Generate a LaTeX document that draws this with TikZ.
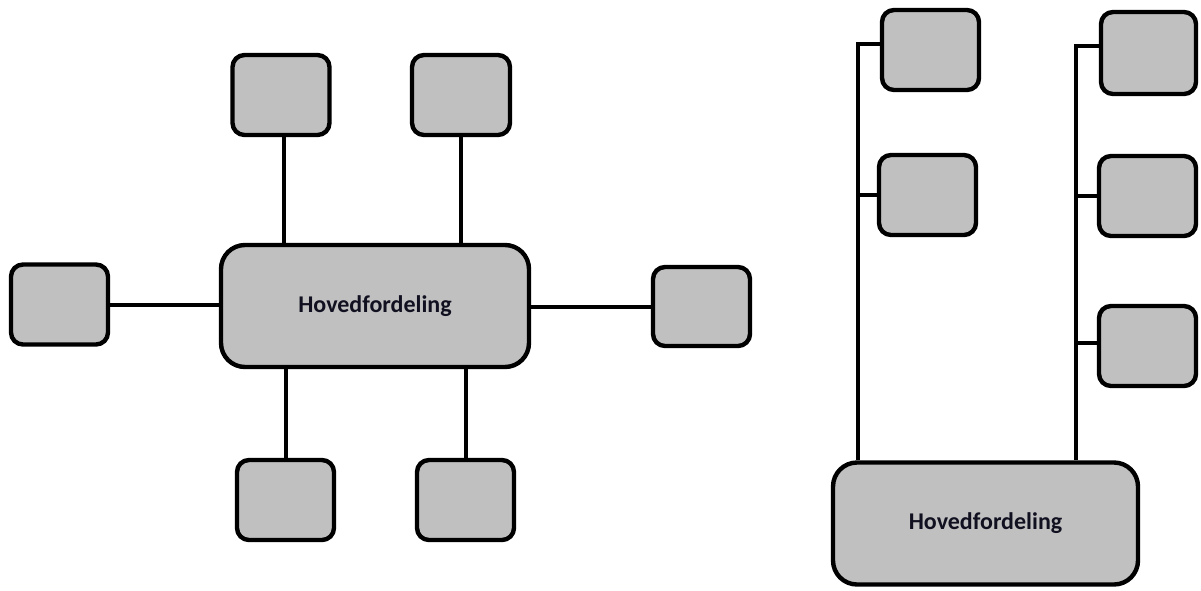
\documentclass[tikz,border=0pt]{standalone}
\usepackage{fontspec}
\setmainfont{Carlito}
\begin{document}
\begin{tikzpicture}[x=1pt,y=-1pt,
  box/.style={draw=black,line width=4.4pt,fill=boxgray,rounded corners=12pt,inner sep=0pt,
    minimum width=97pt,minimum height=80pt},
  hub/.style={draw=black,line width=4.4pt,fill=boxgray,rounded corners=24pt,inner sep=0pt,
    font=\fontsize{24}{28}\selectfont\bfseries,text=textdark},
  wire/.style={draw=black,line width=4pt}]
\definecolor{boxgray}{RGB}{192,192,192}
\definecolor{textdark}{RGB}{16,16,32}
\useasboundingbox (0,0) rectangle (1201,590);
% ---------- left diagram ----------
\node[hub,minimum width=308pt,minimum height=122pt] (m1) at (375,306) {Hovedfordeling};
\node[box] (t1) at (281,95) {};
\node[box,minimum width=98pt] (t2) at (461,95) {};
\node[box] (l) at (59.5,304.5) {};
\node[box,minimum height=79pt] (r) at (701.5,306.5) {};
\node[box] (b1) at (285.5,500) {};
\node[box] (b2) at (465.5,500) {};
\draw[wire] ([xshift=3pt]t1.south) -- ([xshift=3pt]t1.south |- m1.north);
\draw[wire] (t2.south) -- (t2.south |- m1.north);
\draw[wire] (l.east) -- (l.east -| m1.west);
\draw[wire] (r.west) -- (r.west -| m1.east);
\draw[wire] (b1.north) -- (b1.north |- m1.south);
\draw[wire] (b2.north) -- (b2.north |- m1.south);
% ---------- right diagram ----------
\node[hub,minimum width=305pt,minimum height=122pt] (m2) at (985.5,523.5) {Hovedfordeling};
\node[box] (a1) at (930.5,50) {};
\node[box] (a2) at (927.5,195) {};
\node[box,minimum width=95pt,minimum height=82pt] (c1) at (1148.5,53) {};
\node[box,minimum width=97pt] (c2) at (1147.5,196) {};
\node[box,minimum width=97pt] (c3) at (1147.5,346) {};
\coordinate (v1) at (858,0);
\coordinate (v2) at (1076,0);
\draw[wire] ([yshift=6pt]a1.west) -| (m2.north -| v1);
\draw[wire] (a2.west) -- (a2.west -| v1);
\draw[wire] ([yshift=7pt]c1.west) -| (m2.north -| v2);
\draw[wire] (c2.west) -- (c2.west -| v2);
\draw[wire] ([yshift=3pt]c3.west) -- ([yshift=3pt]c3.west -| v2);
\end{tikzpicture}
\end{document}
